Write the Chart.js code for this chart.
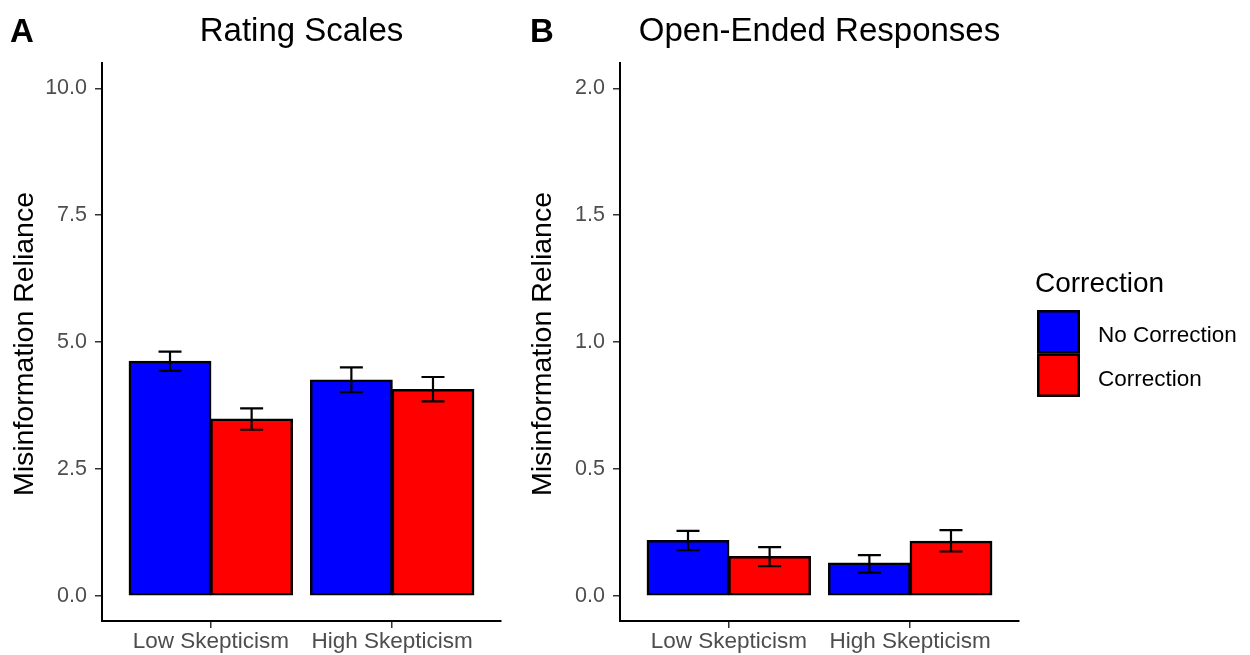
<!DOCTYPE html>
<html>
<head>
<meta charset="utf-8">
<title>Misinformation Reliance</title>
<script src="https://cdn.jsdelivr.net/npm/chart.js@4.4.1/dist/chart.umd.min.js"></script>
<style>
  body { margin: 0; background: #fff; }
  #wrap { position: relative; width: 1250px; height: 655px; overflow: hidden; }
  canvas { position: absolute; top: 0; }
  #panelA { left: 0; }
  #panelB { left: 520px; }
</style>
</head>
<body>
<div id="wrap">
  <canvas id="panelA" width="520" height="655"></canvas>
  <canvas id="panelB" width="730" height="655"></canvas>
</div>
<script>
const FONT = '"Liberation Sans", Arial, sans-serif';

// categories and series
const groups = ["Low Skepticism", "High Skepticism"];
const seriesNames = ["No Correction", "Correction"];
const seriesColors = ["#0000ff", "#ff0000"];

// A: rating scales
const ratingNoCorr = [4.62, 4.25];
const ratingNoCorrLo = [4.43, 4.01];
const ratingNoCorrHi = [4.81, 4.50];
const ratingCorr = [3.48, 4.06];
const ratingCorrLo = [3.27, 3.83];
const ratingCorrHi = [3.69, 4.31];
const ratingTicks = [0, 2.5, 5, 7.5, 10];

// B: open-ended responses
const openNoCorr = [0.217, 0.128];
const openNoCorrLo = [0.179, 0.091];
const openNoCorrHi = [0.255, 0.160];
const openCorr = [0.154, 0.214];
const openCorrLo = [0.116, 0.174];
const openCorrHi = [0.191, 0.258];
const openTicks = [0, 0.5, 1, 1.5, 2];

// error bars on top of the bars
const errorBars = {
  id: "errorBars",
  afterDatasetsDraw(chart) {
    const ctx = chart.ctx;
    const y = chart.scales.y;
    ctx.save();
    ctx.strokeStyle = "#000";
    ctx.lineWidth = 2.2;
    chart.data.datasets.forEach((ds, di) => {
      const meta = chart.getDatasetMeta(di);
      meta.data.forEach((bar, i) => {
        const x = bar.x;
        const top = y.getPixelForValue(ds.errHi[i]);
        const bot = y.getPixelForValue(ds.errLo[i]);
        const w = 11.5;
        ctx.beginPath();
        ctx.moveTo(x, top); ctx.lineTo(x, bot);
        ctx.moveTo(x - w, top); ctx.lineTo(x + w, top);
        ctx.moveTo(x - w, bot); ctx.lineTo(x + w, bot);
        ctx.stroke();
      });
    });
    ctx.restore();
  }
};

// panel letter, title, y axis title and (optionally) the legend
const panelText = {
  id: "panelText",
  afterDraw(chart, args, opts) {
    const ctx = chart.ctx;
    const area = chart.chartArea;
    ctx.save();
    ctx.fillStyle = "#000";
    ctx.textBaseline = "alphabetic";

    ctx.font = "bold 33px " + FONT;
    ctx.textAlign = "left";
    ctx.fillText(opts.letter, opts.letterX, 42);

    ctx.font = "33px " + FONT;
    ctx.textAlign = "center";
    ctx.fillText(opts.title, (area.left + area.right) / 2, 41);

    ctx.save();
    ctx.font = "28.5px " + FONT;
    ctx.translate(area.left - 69, (area.top + area.bottom) / 2 + 2);
    ctx.rotate(-Math.PI / 2);
    ctx.fillText("Misinformation Reliance", 0, 0);
    ctx.restore();

    if (opts.legendX !== undefined) {
      const lx = opts.legendX;
      ctx.textAlign = "left";
      ctx.font = "28px " + FONT;
      ctx.fillText("Correction", lx - 2, 292);
      ctx.font = "22.5px " + FONT;
      seriesNames.forEach((name, i) => {
        const ky = 310 + i * 43.5;
        ctx.fillStyle = seriesColors[i];
        ctx.fillRect(lx, ky, 43, 43.5);
        ctx.strokeStyle = "#000";
        ctx.lineWidth = 2.5;
        ctx.strokeRect(lx + 1.25, ky + 1.25, 40.5, 41);
        ctx.fillStyle = "#000";
        ctx.fillText(name, lx + 61, ky + 32);
      });
    }
    ctx.restore();
  }
};

function makePanel(id, noCorr, noLo, noHi, corr, cLo, cHi, ticks, yWidth, padRight, text) {
  const top = ticks[ticks.length - 1];
  const pad = top * 0.05;
  return new Chart(document.getElementById(id), {
    type: "bar",
    data: {
      datasets: [
        {
          label: seriesNames[0],
          data: noCorr.map((v, i) => ({ x: i + 1, y: v })),
          errLo: noLo, errHi: noHi,
          backgroundColor: seriesColors[0]
        },
        {
          label: seriesNames[1],
          data: corr.map((v, i) => ({ x: i + 1, y: v })),
          errLo: cLo, errHi: cHi,
          backgroundColor: seriesColors[1]
        }
      ]
    },
    options: {
      responsive: false,
      animation: false,
      events: [],
      layout: { padding: { top: 63, right: padRight, bottom: 0, left: 0 } },
      datasets: {
        bar: {
          categoryPercentage: 0.9,
          barPercentage: 1.0,
          borderColor: "#000",
          borderWidth: 2.5,
          borderSkipped: false,
          inflateAmount: 0.6
        }
      },
      scales: {
        x: {
          type: "linear",
          offset: false,
          min: 0.4,
          max: groups.length + 0.6,
          afterBuildTicks: s => { s.ticks = groups.map((g, i) => ({ value: i + 1 })); },
          afterFit: s => { s.height = 34; },
          ticks: {
            callback: v => groups[v - 1],
            color: "#4d4d4d",
            font: { family: FONT, size: 22.5 },
            padding: 0,
            maxRotation: 0,
            autoSkip: false
          },
          grid: { offset: false, drawOnChartArea: false, drawTicks: true, tickLength: 7, color: "#333", lineWidth: 1.5 },
          border: { display: true, color: "#000", width: 2 }
        },
        y: {
          type: "linear",
          min: -pad,
          max: top + pad,
          afterBuildTicks: s => { s.ticks = ticks.map(v => ({ value: v })); },
          afterFit: s => { s.width = yWidth; },
          ticks: {
            callback: v => v.toFixed(1),
            color: "#4d4d4d",
            font: { family: FONT, size: 21.5 },
            padding: 8
          },
          grid: { drawOnChartArea: false, drawTicks: true, tickLength: 7, color: "#333", lineWidth: 1.5 },
          border: { display: true, color: "#000", width: 2 }
        }
      },
      plugins: {
        legend: { display: false },
        tooltip: { enabled: false },
        panelText: text
      }
    },
    plugins: [errorBars, panelText]
  });
}

makePanel("panelA", ratingNoCorr, ratingNoCorrLo, ratingNoCorrHi,
  ratingCorr, ratingCorrLo, ratingCorrHi, ratingTicks, 102, 19,
  { letter: "A", letterX: 10, title: "Rating Scales" });

makePanel("panelB", openNoCorr, openNoCorrLo, openNoCorrHi,
  openCorr, openCorrLo, openCorrHi, openTicks, 100, 231,
  { letter: "B", letterX: 10, title: "Open-Ended Responses", legendX: 517 });
</script>
</body>
</html>
